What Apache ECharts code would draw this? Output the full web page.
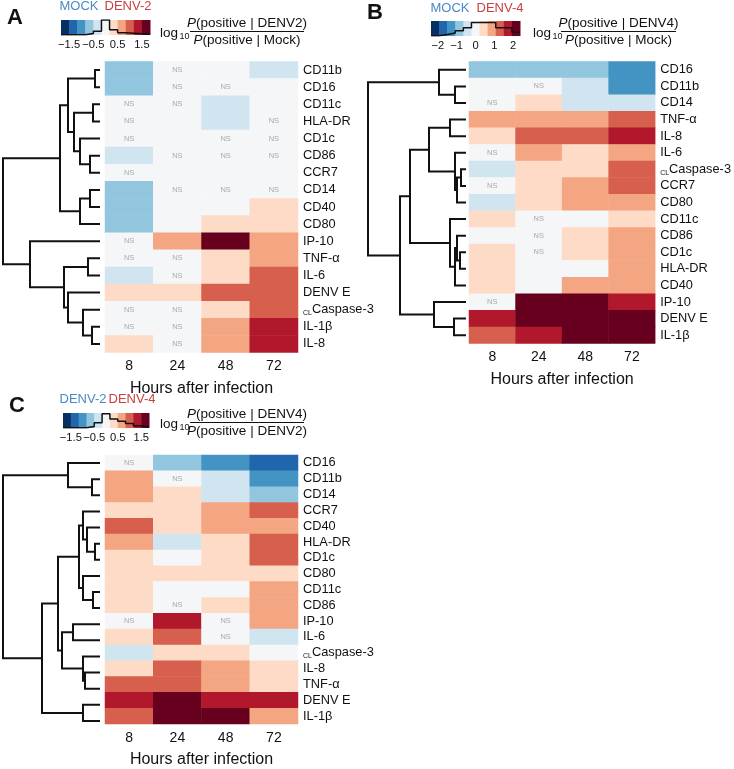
<!DOCTYPE html>
<html>
<head>
<meta charset="utf-8">
<script src="https://cdn.jsdelivr.net/npm/echarts@6/dist/echarts.min.js"></script>
<style>
html, body { margin: 0; padding: 0; background: #fff; }
#chart { width: 734px; height: 769px; }
</style>
</head>
<body>
<div id="chart"></div>
<script>
var FONT = '"Liberation Sans", Arial, Helvetica, sans-serif'
var hours = ['8', '24', '48', '72']

// colour bins, level -5 .. 5 (0 = no change)
var palette = ['#053061', '#2166ac', '#4393c3', '#92c5de', '#d1e5f0', '#f4f6f8',
               '#fddbc7', '#f4a582', '#d6604d', '#b2182b', '#67001f']

// ---- A : DENV-2 vs mock
var rowsA = ['CD11b', 'CD16', 'CD11c', 'HLA-DR', 'CD1c', 'CD86', 'CCR7', 'CD14', 'CD40', 'CD80',
             'IP-10', 'TNF-α', 'IL-6', 'DENV E', 'Caspase-3', 'IL-1β', 'IL-8']
var levelsA = [[-2, 0, 0, -1], [-2, 0, 0, 0], [0, 0, -1, 0], [0, 0, -1, 0], [0, 0, 0, 0],
               [-1, 0, 0, 0], [0, 0, 0, 0], [-2, 0, 0, 0], [-2, 0, 0, 1], [-2, 0, 1, 1],
               [0, 2, 5, 2], [0, 0, 1, 2], [-1, 0, 1, 3], [1, 1, 3, 3], [0, 0, 1, 3],
               [0, 0, 2, 4], [1, 0, 2, 4]]
var nsA = [[0, 1, 0, 0], [0, 1, 1, 0], [1, 1, 0, 0], [1, 0, 0, 1], [1, 0, 1, 1],
           [0, 1, 1, 1], [1, 0, 0, 0], [0, 1, 1, 1], [0, 0, 0, 0], [0, 0, 0, 0],
           [1, 0, 0, 0], [1, 1, 0, 0], [0, 1, 0, 0], [0, 0, 0, 0], [1, 1, 0, 0],
           [1, 1, 0, 0], [0, 1, 0, 0]]
// merges [a, b, height]; ids >= 17 are earlier merges
var linkA = [[0, 1, 5], [2, 3, 7], [5, 6, 10], [4, 19, 20], [18, 20, 26], [17, 21, 32],
             [7, 8, 10], [23, 9, 20], [22, 24, 40], [11, 12, 12], [15, 16, 8], [14, 27, 17],
             [13, 28, 32], [26, 29, 36], [10, 30, 70], [25, 31, 97]]
var histA = [0.02, 0.02, 0.02, 0.1, 0.25, 1, 0.35, 0.15, 0.12, 0.08, 0.05]

// ---- B : DENV-4 vs mock
var rowsB = ['CD16', 'CD11b', 'CD14', 'TNF-α', 'IL-8', 'IL-6', 'Caspase-3', 'CCR7', 'CD80', 'CD11c',
             'CD86', 'CD1c', 'HLA-DR', 'CD40', 'IP-10', 'DENV E', 'IL-1β']
var levelsB = [[-2, -2, -2, -3], [0, 0, -1, -3], [0, 1, -1, -1], [2, 2, 2, 3], [1, 3, 3, 4],
               [0, 2, 1, 2], [-1, 1, 1, 3], [0, 1, 2, 3], [-1, 1, 2, 2], [1, 0, 0, 1],
               [0, 0, 1, 2], [1, 0, 1, 2], [1, 0, 0, 2], [1, 0, 2, 2], [0, 5, 5, 4],
               [4, 5, 5, 5], [3, 4, 5, 5]]
var nsB = [[0, 0, 0, 0], [0, 1, 0, 0], [1, 0, 0, 0], [0, 0, 0, 0], [0, 0, 0, 0],
           [1, 0, 0, 0], [0, 0, 0, 0], [1, 0, 0, 0], [0, 0, 0, 0], [0, 1, 0, 0],
           [0, 1, 0, 0], [0, 1, 0, 0], [0, 0, 0, 0], [0, 0, 0, 0], [1, 0, 0, 0],
           [0, 0, 0, 0], [0, 0, 0, 0]]
var linkB = [[1, 2, 11], [0, 17, 27], [3, 4, 16], [6, 7, 5], [20, 8, 9], [5, 21, 11],
             [19, 22, 37], [11, 12, 6], [10, 24, 9], [25, 13, 11], [9, 26, 16], [23, 27, 56],
             [15, 16, 12], [14, 29, 32], [28, 30, 66], [18, 31, 98]]
var histB = [0.02, 0.1, 0.2, 0.35, 0.55, 0.9, 0.9, 0.9, 0.55, 0.55, 0.25]

// ---- C : DENV-4 vs DENV-2
var rowsC = ['CD16', 'CD11b', 'CD14', 'CCR7', 'CD40', 'HLA-DR', 'CD1c', 'CD80', 'CD11c', 'CD86',
             'IP-10', 'IL-6', 'Caspase-3', 'IL-8', 'TNF-α', 'DENV E', 'IL-1β']
var levelsC = [[0, -2, -3, -4], [2, 0, -1, -3], [2, 1, -1, -2], [1, 1, 2, 3], [3, 1, 2, 2],
               [2, -1, 1, 3], [1, 0, 1, 3], [1, 1, 1, 1], [1, 0, 0, 2], [1, 0, 1, 2],
               [0, 4, 0, 2], [1, 3, 0, -1], [-1, 1, 1, 0], [1, 3, 2, 1], [3, 3, 2, 1],
               [4, 5, 4, 4], [3, 5, 5, 2]]
var nsC = [[1, 0, 0, 0], [0, 1, 0, 0], [0, 0, 0, 0], [0, 0, 0, 0], [0, 0, 0, 0],
           [0, 0, 0, 0], [0, 0, 0, 0], [0, 0, 0, 0], [0, 0, 0, 0], [0, 1, 0, 0],
           [1, 0, 1, 0], [0, 0, 1, 0], [0, 0, 0, 0], [0, 0, 0, 0], [0, 0, 0, 0],
           [0, 0, 0, 0], [0, 0, 0, 0]]
var linkC = [[1, 2, 8], [0, 17, 32], [5, 6, 5], [4, 19, 13], [3, 20, 17], [8, 9, 7],
             [7, 22, 17], [21, 23, 21], [10, 11, 27], [13, 14, 15], [12, 26, 17], [25, 27, 38],
             [24, 28, 42], [15, 16, 17], [29, 30, 58], [18, 31, 97]]
var histC = [0.02, 0.02, 0.02, 0.1, 0.35, 0.95, 0.6, 0.45, 0.3, 0.15, 0.05]

// legend scales: width of one colour bin and the labelled ticks
var binA = 1 / 3, ticksA = [-1.5, -0.5, 0.5, 1.5]
var binB = 0.43, ticksB = [-2, -1, 0, 1, 2]
var binC = 1 / 3, ticksC = [-1.5, -0.5, 0.5, 1.5]

var panels = [
  { rows: rowsA, lv: levelsA, ns: nsA, link: linkA, hist: histA, bin: binA, ticks: ticksA,
    heat: { left: 105, top: 61.5, width: 193, height: 291 },
    dend: { left: 2, width: 98 },
    bar: { left: 61, top: 20, width: 89, height: 15 } },
  { rows: rowsB, lv: levelsB, ns: nsB, link: linkB, hist: histB, bin: binB, ticks: ticksB,
    heat: { left: 469, top: 61.5, width: 194, height: 282 },
    dend: { left: 367, width: 99 },
    bar: { left: 431, top: 21, width: 89, height: 15 } },
  { rows: rowsC, lv: levelsC, ns: nsC, link: linkC, hist: histC, bin: binC, ticks: ticksC,
    heat: { left: 105, top: 455, width: 193, height: 274 },
    dend: { left: 2, width: 98 },
    bar: { left: 63, top: 413, width: 86, height: 15 } }
]

function minus(v) { return v < 0 ? '\u2212' + Math.abs(v) : String(v) }

var grids = [], xAxes = [], yAxes = [], series = [], heatIdx = []

panels.forEach(function (p, k) {
  var n = p.rows.length
  // heatmap
  var g = grids.length
  grids.push(p.heat)
  xAxes.push({ gridIndex: g, type: 'category', data: hours,
    axisLine: { show: false }, axisTick: { show: false },
    axisLabel: { fontSize: 14, color: '#111', margin: 7, fontFamily: FONT },
    name: 'Hours after infection', nameLocation: 'middle', nameGap: 28,
    nameTextStyle: { fontSize: 16, color: '#111', fontFamily: FONT } })
  yAxes.push({ gridIndex: g, type: 'category', data: p.rows, inverse: true, position: 'right',
    axisLine: { show: false }, axisTick: { show: false },
    axisLabel: { interval: 0, margin: 5, fontFamily: FONT,
      formatter: function (v) { return v === 'Caspase-3' ? '{s|CL}{t|Caspase-3}' : '{t|' + v + '}' },
      rich: { t: { fontSize: 12.8, color: '#111', fontFamily: FONT, lineHeight: 14 },
              s: { fontSize: 7, color: '#111', fontFamily: FONT, lineHeight: 8, verticalAlign: 'bottom' } } } })
  var data = []
  p.lv.forEach(function (row, r) {
    row.forEach(function (v, c) { data.push([c, r, v]) })
  })
  heatIdx.push(series.length)
  series.push({ type: 'heatmap', xAxisIndex: g, yAxisIndex: g, data: data,
    itemStyle: { borderWidth: 0 },
    label: { show: true, fontSize: 7.5, color: '#aaa', fontFamily: FONT,
      formatter: function (q) { return p.ns[q.data[1]][q.data[0]] ? 'NS' : '' } },
    emphasis: { disabled: true } })

  // dendrogram
  g = grids.length
  grids.push({ left: p.dend.left, width: p.dend.width, top: p.heat.top, height: p.heat.height })
  xAxes.push({ gridIndex: g, type: 'value', min: 0, max: p.dend.width, inverse: true, show: false })
  yAxes.push({ gridIndex: g, type: 'value', min: -0.5, max: n - 0.5, inverse: true, show: false })
  var h = [], y = []
  for (var i = 0; i < n; i++) { h[i] = 0; y[i] = i }
  var segs = p.link.map(function (m, j) {
    h[n + j] = m[2]
    y[n + j] = (y[m[0]] + y[m[1]]) / 2
    return [h[m[0]], y[m[0]], m[2], y[m[1]], h[m[1]]]
  })
  series.push({ type: 'custom', xAxisIndex: g, yAxisIndex: g, silent: true, data: segs,
    encode: { x: [0, 2, 4], y: [1, 3] },
    renderItem: function (params, api) {
      var a = api.coord([api.value(0), api.value(1)])
      var b = api.coord([api.value(2), api.value(1)])
      var c = api.coord([api.value(2), api.value(3)])
      var d = api.coord([api.value(4), api.value(3)])
      return { type: 'polyline', shape: { points: [a, b, c, d] },
        style: { stroke: '#111', lineWidth: 2, fill: null } }
    } })

  // colour legend + histogram outline
  g = grids.length
  grids.push(p.bar)
  var ext = p.bin * 5.5
  xAxes.push({ gridIndex: g, type: 'value', min: -ext, max: ext,
    axisLine: { show: false }, axisTick: { show: false }, splitLine: { show: false },
    axisLabel: { customValues: p.ticks, fontSize: 11.2, color: '#111', margin: 4,
      showMinLabel: true, showMaxLabel: true, hideOverlap: false,
      fontFamily: FONT, formatter: minus } })
  yAxes.push({ gridIndex: g, type: 'value', min: 0, max: 1, show: false })
  var bins = palette.map(function (col, j) {
    return [-ext + j * p.bin, -ext + (j + 1) * p.bin, j]
  })
  series.push({ type: 'custom', xAxisIndex: g, yAxisIndex: g, silent: true, data: bins,
    encode: { x: [0, 1] },
    renderItem: function (params, api) {
      var a = api.coord([api.value(0), 1])
      var b = api.coord([api.value(1), 0])
      return { type: 'rect', shape: { x: a[0], y: a[1], width: b[0] - a[0] + 0.5, height: b[1] - a[1] },
        style: { fill: palette[api.value(2)] } }
    } })
  var steps = p.hist.map(function (v, j) { return [-ext + j * p.bin, v] })
  steps.push([ext, p.hist[p.hist.length - 1]])
  series.push({ type: 'line', xAxisIndex: g, yAxisIndex: g, step: 'end', data: steps,
    symbol: 'none', silent: true, lineStyle: { color: '#111', width: 1.5 } })
})

function txt(x, y, s, opt) {
  var st = { x: x, y: y, text: s, fill: '#111', fontSize: 13, fontFamily: FONT,
             align: 'center', verticalAlign: 'middle' }
  for (var key in opt) st[key] = opt[key]
  return { type: 'text', style: st, silent: true }
}
function frac(x1, x2, yl, lx, num, den) {
  var cx = (x1 + x2) / 2
  var rich = { i: { fontStyle: 'italic', fontSize: 13.5, fontFamily: FONT, fill: '#111' },
               r: { fontSize: 13.5, fontFamily: FONT, fill: '#111' } }
  return [
    txt(lx, yl + 1.5, 'log', { align: 'left', fontSize: 13.5 }),
    txt(lx + 19.5, yl + 5, '10', { align: 'left', fontSize: 9 }),
    txt(cx, yl - 8.5, '{i|P}{r|' + num + '}', { rich: rich }),
    { type: 'line', silent: true, shape: { x1: x1, y1: yl, x2: x2, y2: yl },
      style: { stroke: '#111', lineWidth: 1 } },
    txt(cx, yl + 8.5, '{i|P}{r|' + den + '}', { rich: rich })
  ]
}
var BLUE = '#4a88c7', RED = '#c9403d'
var graphics = [
  txt(15, 18, 'A', { fontSize: 22, fontWeight: 'bold' }),
  txt(79, 6, 'MOCK', { fill: BLUE }),
  txt(128, 6, 'DENV-2', { fill: RED }),
  txt(375, 13, 'B', { fontSize: 22, fontWeight: 'bold' }),
  txt(450, 8, 'MOCK', { fill: BLUE }),
  txt(500, 8, 'DENV-4', { fill: RED }),
  txt(17, 406, 'C', { fontSize: 22, fontWeight: 'bold' }),
  txt(83, 399, 'DENV-2', { fill: BLUE }),
  txt(132, 399, 'DENV-4', { fill: RED })
].concat(
  frac(190, 304, 31.5, 160, '(positive | DENV2)', '(positive | Mock)'),
  frac(561, 676, 31.5, 533, '(positive | DENV4)', '(positive | Mock)'),
  frac(190, 304, 422.5, 160, '(positive | DENV4)', '(positive | DENV2)')
)

var chart = echarts.init(document.getElementById('chart'))
chart.setOption({
  animation: false,
  backgroundColor: '#fff',
  textStyle: { fontFamily: FONT },
  grid: grids,
  xAxis: xAxes,
  yAxis: yAxes,
  visualMap: {
    type: 'piecewise', show: false, seriesIndex: heatIdx, dimension: 2,
    pieces: palette.map(function (c, j) { return { value: j - 5, color: c } })
  },
  series: series,
  graphic: graphics
})
</script>
</body>
</html>
